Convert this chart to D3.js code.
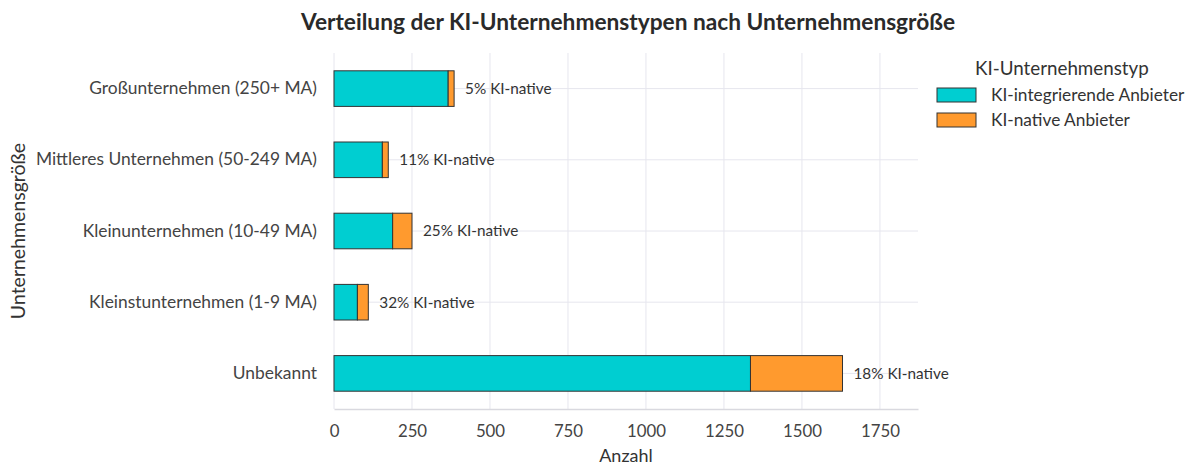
<!DOCTYPE html>
<html>
<head>
<meta charset="utf-8">
<script src="https://cdn.jsdelivr.net/npm/d3@7"></script>
<style>
  body { margin: 0; background: #fff; }
  #chart { width: 1195px; height: 466px; }
  text { font-family: Lato, "Noto Sans", sans-serif; }
</style>
</head>
<body>
<div id="chart"></div>
<script>
// Data
const categories = [
    "Großunternehmen (250+ MA)",
    "Mittleres Unternehmen (50-249 MA)",
    "Kleinunternehmen (10-49 MA)",
    "Kleinstunternehmen (1-9 MA)",
    "Unbekannt"
];
const integrierend = [366, 155, 188, 75, 1335];
const nativ = [19, 19, 62, 35, 295];
const seriesNames = ["KI-integrierende Anbieter", "KI-native Anbieter"];
const xTicks = [0, 250, 500, 750, 1000, 1250, 1500, 1750];

const COLORS = ["#00CED1", "#FF9A2E"];

const W = 1195, H = 466;
const MARGIN = { left: 334, right: 1195 - 918, top: 53, bottom: 466 - 409 };

let svg = d3.select("#chart")
    .append("svg")
    .attr("width", W)
    .attr("height", H);

let x = d3.scaleLinear()
    .domain([0, 1872])
    .range([MARGIN.left, W - MARGIN.right]);

let y = d3.scaleBand()
    .domain(categories)
    .range([MARGIN.top, H - MARGIN.bottom])
    .paddingInner(0.5)
    .paddingOuter(0.25);

// grid
svg.append("g")
    .selectAll("line")
    .data(xTicks)
    .enter()
    .append("line")
    .attr("x1", d => x(d))
    .attr("x2", d => x(d))
    .attr("y1", MARGIN.top)
    .attr("y2", H - MARGIN.bottom)
    .attr("stroke", "#e6e6ee")
    .attr("stroke-width", 1);

svg.append("g")
    .selectAll("line")
    .data(categories)
    .enter()
    .append("line")
    .attr("x1", MARGIN.left)
    .attr("x2", W - MARGIN.right)
    .attr("y1", d => y(d) + y.bandwidth() / 2)
    .attr("y2", d => y(d) + y.bandwidth() / 2)
    .attr("stroke", "#e6e6ee")
    .attr("stroke-width", 1);

// x axis
let xAxis = svg.append("g")
    .attr("transform", `translate(0,${H - MARGIN.bottom})`)
    .call(d3.axisBottom(x).tickValues(xTicks).tickSize(0).tickPadding(16).tickFormat(d3.format("d")));
xAxis.select(".domain").attr("stroke", "#d9d9df").attr("stroke-width", 1.5);
xAxis.selectAll("text").attr("font-size", 16.8).attr("fill", "#444").attr("font-family", "Lato");

// y axis labels
let yAxis = svg.append("g")
    .attr("transform", `translate(${MARGIN.left},0)`)
    .call(d3.axisLeft(y).tickSize(0).tickPadding(17));
yAxis.select(".domain").remove();
yAxis.selectAll("text").attr("font-size", 17.4).attr("fill", "#444").attr("font-family", "Lato");

// stacked bars
let rows = categories.map((c, i) => ({ cat: c, a: integrierend[i], b: nativ[i] }));

let barG = svg.append("g");
barG.selectAll(".bar-a")
    .data(rows)
    .enter()
    .append("rect")
    .attr("x", x(0))
    .attr("y", d => y(d.cat))
    .attr("width", d => x(d.a) - x(0))
    .attr("height", y.bandwidth())
    .attr("fill", COLORS[0])
    .attr("stroke", "#333")
    .attr("stroke-width", 1);

barG.selectAll(".bar-b")
    .data(rows)
    .enter()
    .append("rect")
    .attr("x", d => x(d.a))
    .attr("y", d => y(d.cat))
    .attr("width", d => x(d.a + d.b) - x(d.a))
    .attr("height", y.bandwidth())
    .attr("fill", COLORS[1])
    .attr("stroke", "#333")
    .attr("stroke-width", 1);

// percentage labels
barG.selectAll(".pct")
    .data(rows)
    .enter()
    .append("text")
    .attr("x", d => x(d.a + d.b) + 11)
    .attr("y", d => y(d.cat) + y.bandwidth() / 2)
    .attr("dy", "0.35em")
    .attr("font-size", 15.3)
    .attr("fill", "#333")
    .text(d => Math.round(100 * d.b / (d.a + d.b)) + "% KI-native");

// titles
svg.append("text")
    .attr("x", 628)
    .attr("y", 30)
    .attr("text-anchor", "middle")
    .attr("font-size", 22.7)
    .attr("font-weight", "bold")
    .attr("fill", "#2a2a2a")
    .text("Verteilung der KI-Unternehmenstypen nach Unternehmensgröße");

svg.append("text")
    .attr("x", (MARGIN.left + W - MARGIN.right) / 2)
    .attr("y", 462)
    .attr("text-anchor", "middle")
    .attr("font-size", 18)
    .attr("fill", "#333")
    .text("Anzahl");

svg.append("text")
    .attr("transform", `translate(25,${(MARGIN.top + H - MARGIN.bottom) / 2}) rotate(-90)`)
    .attr("text-anchor", "middle")
    .attr("font-size", 19.5)
    .attr("fill", "#333")
    .text("Unternehmensgröße");

// legend
let legend = svg.append("g");
legend.append("text")
    .attr("x", 975)
    .attr("y", 75)
    .attr("font-size", 18.8)
    .attr("fill", "#333")
    .text("KI-Unternehmenstyp");

let items = legend.selectAll(".item")
    .data(seriesNames)
    .enter()
    .append("g")
    .attr("transform", (d, i) => `translate(937,${88 + i * 25})`);
items.append("rect")
    .attr("width", 39)
    .attr("height", 14)
    .attr("fill", (d, i) => COLORS[i])
    .attr("stroke", "#333")
    .attr("stroke-width", 1);
items.append("text")
    .attr("x", 54)
    .attr("y", 7)
    .attr("dy", "0.35em")
    .attr("font-size", 17.3)
    .attr("fill", "#333")
    .text(d => d);
</script>
</body>
</html>
